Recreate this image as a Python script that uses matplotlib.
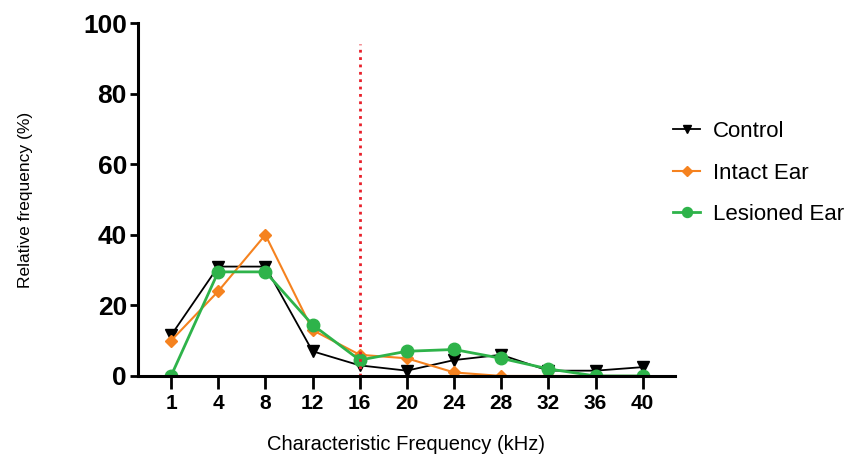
import numpy as np
import matplotlib.pyplot as plt

plt.rcParams['font.family'] = ['Liberation Sans', 'DejaVu Sans']

freqs = ['1', '4', '8', '12', '16', '20', '24', '28', '32', '36', '40']
control = [11.5, 31, 31, 7, 3, 1.5, 4.5, 6, 1.5, 1.5, 2.5]
intact = [10, 24, 40, 13, 6, 5, 1, 0, 0, 0, 0]
lesioned = [0, 29.5, 29.5, 14.5, 4.5, 7, 7.5, 5, 2, 0, 0]

x = np.arange(len(freqs))

fig = plt.figure(figsize=(8.52, 4.63), dpi=100)
ax = fig.add_axes([0.162, 0.188, 0.63, 0.762])

ax.plot(x, control, color='black', marker='v', markersize=8, linewidth=1.3, label='Control')
ax.plot(x, intact, color='#f5821f', marker='D', markersize=6, linewidth=1.5, label='Intact Ear')
ax.plot(x, lesioned, color='#2eb34a', marker='o', markersize=9, linewidth=2, label='Lesioned Ear')

# 16 kHz marker
ax.plot([4, 4], [0, 94], color='#e8202a', linestyle=':', linewidth=2)

ax.set_xlim(-0.7, 10.68)
ax.set_ylim(0, 100)
ax.set_xticks(x)
ax.set_xticklabels(freqs, fontsize=15, fontweight='bold')
ax.set_yticks([0, 20, 40, 60, 80, 100])
ax.set_yticklabels(['0', '20', '40', '60', '80', '100'], fontsize=19, fontweight='bold')

for s in ['top', 'right']:
    ax.spines[s].set_visible(False)
for s in ['left', 'bottom']:
    ax.spines[s].set_linewidth(2.2)
ax.tick_params(axis='y', width=2, length=6, pad=2)
ax.tick_params(axis='x', width=2, length=9, pad=4)

ax.set_ylabel('Relative frequency (%)', fontsize=12.5, labelpad=36)
ax.set_xlabel('Characteristic Frequency (kHz)', fontsize=14.5, labelpad=16)

ax.legend(loc='center left', bbox_to_anchor=(0.96, 0.575), frameon=False, fontsize=16,
          handlelength=1.2, handletextpad=0.6, labelspacing=0.92, markerscale=0.8)

fig.savefig('out.png', dpi=100)
